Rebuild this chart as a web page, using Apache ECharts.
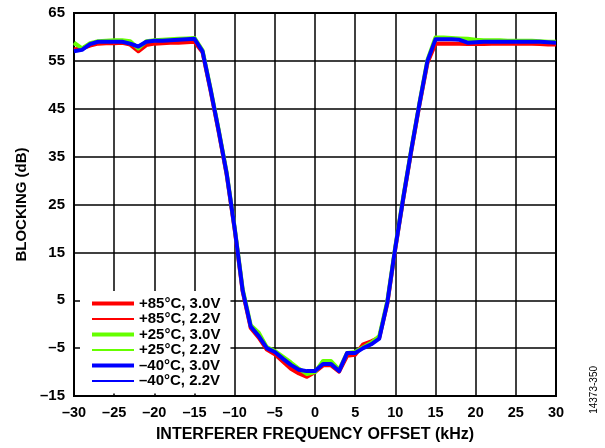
<!DOCTYPE html>
<html>
<head>
<meta charset="utf-8">
<script src="https://cdn.jsdelivr.net/npm/echarts@6/dist/echarts.min.js"></script>
<style>
  html, body { margin: 0; padding: 0; background: #fff; }
  #main { width: 605px; height: 448px; }
</style>
</head>
<body>
<div id="main"></div>
<script>
// interferer frequency offset, kHz
var freq = [];
for (var f = -30; f <= 30; f++) freq.push(f);

// blocking, dB (at 1 kHz steps)
var red30 = [57.3, 57.6, 58.2, 58.6, 58.7, 58.7, 58.8, 58.4, 57.0, 58.3, 58.6, 58.7, 58.8, 58.8, 58.9, 59.0, 56.8, 48.8, 40.3, 31.3, 19.8, 6.8, -0.8, -2.8, -5.3, -6.3, -7.8, -9.3, -10.3, -11.0, -10.0, -8.6, -8.6, -9.9, -6.6, -6.4, -4.2, -3.6, -2.8, 4.3, 15.8, 26.3, 36.3, 45.8, 54.6, 58.6, 58.6, 58.6, 58.6, 58.5, 58.5, 58.5, 58.6, 58.6, 58.6, 58.6, 58.6, 58.6, 58.5, 58.4, 58.4];
var red22 = [57.6, 57.8, 58.4, 58.8, 58.8, 58.8, 58.9, 58.5, 57.3, 58.5, 58.7, 58.8, 58.9, 58.9, 59.0, 59.1, 56.9, 48.9, 40.4, 31.4, 19.9, 6.9, -0.7, -2.7, -5.2, -6.1, -7.6, -9.1, -10.0, -10.7, -10.0, -8.5, -8.5, -9.9, -6.4, -6.3, -4.5, -3.8, -2.9, 4.4, 15.9, 26.4, 36.4, 45.9, 54.7, 58.8, 58.8, 58.8, 58.7, 58.6, 58.6, 58.6, 58.7, 58.7, 58.7, 58.7, 58.7, 58.6, 58.6, 58.5, 58.5];
var grn30 = [58.8, 57.6, 58.7, 59.1, 59.2, 59.3, 59.3, 59.1, 57.6, 59.1, 59.3, 59.4, 59.5, 59.6, 59.7, 59.8, 57.2, 49.2, 40.7, 31.7, 20.2, 7.3, -0.2, -1.8, -4.8, -5.6, -6.8, -8.0, -9.3, -10.4, -10.0, -7.7, -7.7, -9.5, -6.0, -5.8, -4.8, -3.9, -2.5, 4.8, 16.2, 26.7, 36.7, 46.2, 55.2, 59.9, 59.9, 59.8, 59.7, 59.6, 59.4, 59.3, 59.3, 59.3, 59.2, 59.2, 59.2, 59.2, 59.1, 59.0, 59.0];
var grn22 = [58.4, 57.8, 58.6, 59.0, 59.1, 59.2, 59.2, 59.0, 57.8, 59.0, 59.2, 59.3, 59.4, 59.5, 59.6, 59.7, 57.1, 49.1, 40.6, 31.6, 20.1, 7.2, -0.3, -2.0, -4.9, -5.7, -7.0, -8.2, -9.4, -10.2, -9.9, -7.8, -7.8, -9.6, -6.1, -5.9, -4.9, -4.0, -2.6, 4.7, 16.1, 26.6, 36.6, 46.1, 55.1, 59.8, 59.8, 59.7, 59.6, 59.5, 59.3, 59.2, 59.2, 59.2, 59.1, 59.1, 59.1, 59.1, 59.0, 58.9, 58.9];
var blu30 = [57.0, 57.3, 58.5, 59.0, 59.0, 59.0, 59.0, 58.6, 58.0, 59.0, 59.2, 59.2, 59.3, 59.4, 59.5, 59.6, 57.0, 49.0, 40.5, 31.5, 20.0, 7.0, -0.5, -2.5, -5.0, -5.8, -7.2, -8.5, -9.5, -9.8, -9.8, -8.3, -8.3, -9.8, -6.0, -6.0, -5.0, -4.2, -3.0, 4.5, 16.0, 26.5, 36.5, 46.0, 55.0, 59.5, 59.5, 59.5, 59.4, 58.8, 58.9, 59.0, 59.0, 59.0, 59.0, 59.0, 59.0, 59.0, 59.0, 58.9, 58.8];
var blu22 = [57.2, 57.4, 58.6, 59.0, 59.0, 59.0, 59.0, 58.7, 58.2, 59.0, 59.2, 59.2, 59.3, 59.4, 59.5, 59.6, 57.0, 49.0, 40.5, 31.5, 20.0, 7.0, -0.5, -2.5, -5.0, -5.8, -7.3, -8.6, -9.6, -9.9, -9.8, -8.3, -8.3, -9.8, -6.0, -6.0, -5.0, -4.2, -3.0, 4.5, 16.0, 26.5, 36.5, 46.0, 55.0, 59.5, 59.5, 59.5, 59.4, 58.9, 58.9, 59.0, 59.0, 59.0, 59.0, 59.0, 59.0, 59.0, 59.0, 58.9, 58.8];

var seriesNames = ['+85°C, 3.0V', '+85°C, 2.2V', '+25°C, 3.0V', '+25°C, 2.2V', '–40°C, 3.0V', '–40°C, 2.2V'];
var seriesValues = [red30, red22, grn30, grn22, blu30, blu22];
var seriesColors = ['#ff0000', '#ff0000', '#66ff00', '#66ff00', '#0000ff', '#0000ff'];
var seriesWidths = [4, 2, 4, 2, 4, 2];

var xTicks = { min: -30, max: 30, interval: 5 };
var yTicks = { min: -15, max: 65, interval: 10 };

var fontFamily = '"Liberation Sans", Arial, Helvetica, sans-serif';

function dash(v) {
  return String(v).replace('-', '\u2013');
}

function pairs(vals) {
  var out = [];
  for (var i = 0; i < freq.length; i++) out.push([freq[i], vals[i]]);
  return out;
}

var series = [];
for (var i = 0; i < seriesNames.length; i++) {
  series.push({
    name: seriesNames[i],
    type: 'line',
    data: pairs(seriesValues[i]),
    symbol: 'none',
    color: seriesColors[i],
    lineStyle: { width: seriesWidths[i], color: seriesColors[i], join: 'round' },
    animation: false
  });
}

var chartDom = document.getElementById('main');
var myChart = echarts.init(chartDom, null, { renderer: 'canvas' });

var option = {
  backgroundColor: '#fff',
  animation: false,
  grid: {
    left: 74,
    right: 49,
    top: 13,
    bottom: 51,
    show: true,
    borderColor: '#000',
    borderWidth: 2
  },
  legend: {
    orient: 'vertical',
    left: 80,
    top: 291,
    padding: [5, 10, 5, 10],
    backgroundColor: '#fff',
    itemWidth: 42,
    itemHeight: 12,
    itemGap: 0.5,
    selectedMode: false,
    data: seriesNames.map(function (n, i) {
      return {
        name: n,
        itemStyle: { color: seriesColors[i], opacity: 0 },
        lineStyle: { color: seriesColors[i], width: seriesWidths[i] }
      };
    }),
    textStyle: {
      fontFamily: fontFamily,
      fontWeight: 'bold',
      fontSize: 15,
      color: '#000'
    }
  },
  xAxis: {
    type: 'value',
    min: xTicks.min,
    max: xTicks.max,
    interval: xTicks.interval,
    name: 'INTERFERER FREQUENCY OFFSET (kHz)',
    nameLocation: 'middle',
    nameGap: 31,
    nameTextStyle: { fontFamily: fontFamily, fontWeight: 'bold', fontSize: 16, color: '#000' },
    axisLine: { show: true, onZero: false, lineStyle: { color: '#000', width: 2 } },
    axisTick: { show: false },
    splitLine: { show: true, lineStyle: { color: '#000', width: 1.5 } },
    axisLabel: {
      formatter: dash,
      fontFamily: fontFamily,
      fontWeight: 'bold',
      fontSize: 14.5,
      color: '#000',
      margin: 9
    }
  },
  yAxis: {
    type: 'value',
    min: yTicks.min,
    max: yTicks.max,
    interval: yTicks.interval,
    name: 'BLOCKING (dB)',
    nameLocation: 'middle',
    nameGap: 36,
    nameTextStyle: { fontFamily: fontFamily, fontWeight: 'bold', fontSize: 15, color: '#000' },
    axisLine: { show: true, onZero: false, lineStyle: { color: '#000', width: 2 } },
    axisTick: { show: false },
    splitLine: { show: true, lineStyle: { color: '#000', width: 1.5 } },
    axisLabel: {
      formatter: dash,
      fontFamily: fontFamily,
      fontWeight: 'bold',
      fontSize: 15,
      color: '#000',
      margin: 9
    }
  },
  graphic: [
    {
      type: 'text',
      left: 589,
      top: 366,
      rotation: Math.PI / 2,
      style: {
        text: '14373-350',
        fontFamily: fontFamily,
        fontSize: 10,
        fill: '#000'
      }
    }
  ],
  series: series
};

option && myChart.setOption(option);
</script>
</body>
</html>
